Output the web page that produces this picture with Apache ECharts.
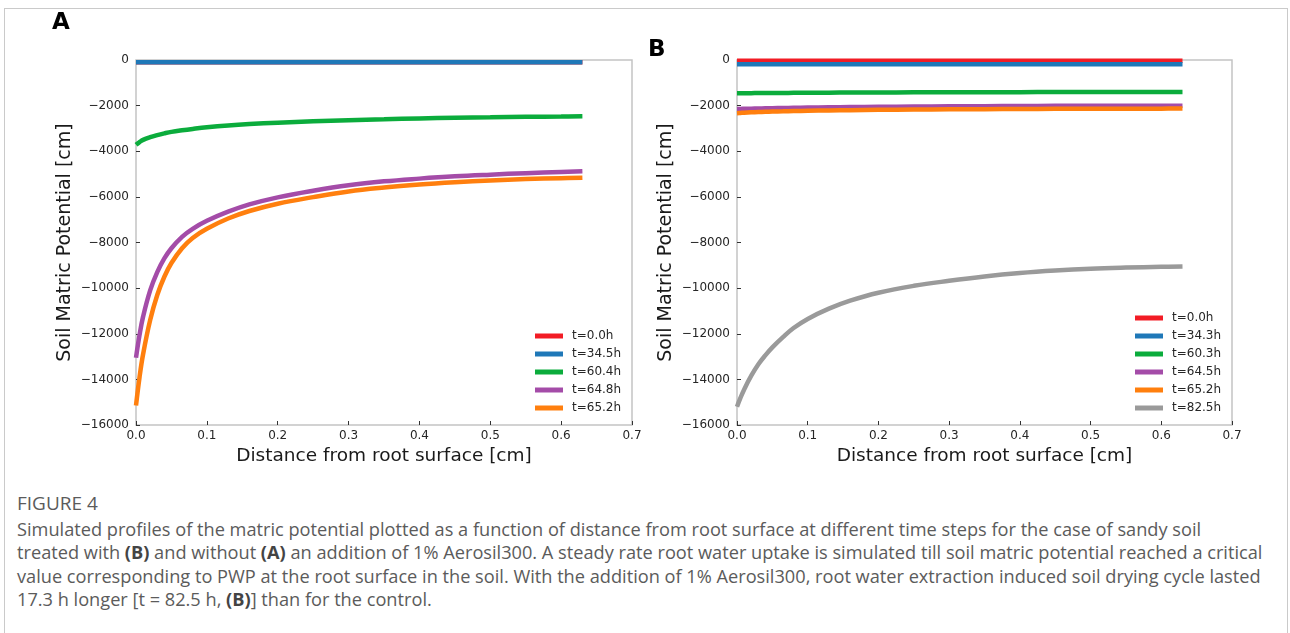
<!DOCTYPE html>
<html>
<head>
<meta charset="utf-8">
<script src="https://cdn.jsdelivr.net/npm/echarts@6/dist/echarts.min.js"></script>
<style>
  body { margin: 0; background: #fff; width: 1290px; height: 633px; overflow: hidden; position: relative; }
  #frame { position: absolute; left: 4px; top: 8px; width: 1284px; height: 700px; border: 1px solid #cacaca; box-sizing: border-box; }
  #chart { position: absolute; left: 0; top: 0; width: 1290px; height: 475px; }
  #caption { position: absolute; left: 17px; top: 490px; width: 1270px; font-family: "Open Sans", sans-serif; color: #5b5b5b; white-space: nowrap; }
  #caption .fig { font-size: 19px; line-height: 26px; height: 26px; margin-bottom: 2px; }
  #caption .txt { font-size: 18.2px; line-height: 23.4px; }
  #caption b { color: #444; }
</style>
</head>
<body>
<div id="frame"></div>
<div id="chart"></div>
<div id="caption">
  <div class="fig">FIGURE 4</div>
  <div class="txt">Simulated profiles of the matric potential plotted as a function of distance from root surface at different time steps for the case of sandy soil<br>treated with <b>(B)</b> and without <b>(A)</b> an addition of 1% Aerosil300. A steady rate root water uptake is simulated till soil matric potential reached a critical<br>value corresponding to PWP at the root surface in the soil. With the addition of 1% Aerosil300, root water extraction induced soil drying cycle lasted<br>17.3 h longer [t = 82.5 h, <b>(B)</b>] than for the control.</div>
</div>
<script>
// distance from root surface [cm]
var dist = [0, 0.005, 0.01, 0.02, 0.03, 0.04, 0.05, 0.065, 0.08, 0.1, 0.13, 0.16, 0.2, 0.25, 0.3, 0.35, 0.4, 0.45, 0.5, 0.55, 0.6, 0.63];

// panel A (without Aerosil)
var namesA = ['t=0.0h', 't=34.5h', 't=60.4h', 't=64.8h', 't=65.2h'];
var redA    = [-100, -100, -100, -100, -100, -100, -100, -100, -100, -100, -100, -100, -100, -100, -100, -100, -100, -100, -100, -100, -100, -100];
var blueA   = [-100, -100, -100, -100, -100, -100, -100, -100, -100, -100, -100, -100, -100, -100, -100, -100, -100, -100, -100, -100, -100, -100];
var greenA  = [-3720, -3600, -3500, -3380, -3290, -3215, -3150, -3080, -3020, -2950, -2870, -2810, -2750, -2690, -2640, -2600, -2560, -2530, -2510, -2490, -2480, -2470];
var purpleA = [-13050, -12050, -11250, -10100, -9300, -8700, -8250, -7750, -7400, -7050, -6650, -6330, -6020, -5730, -5490, -5320, -5200, -5100, -5025, -4960, -4910, -4880];
var orangeA = [-15150, -13900, -12900, -11400, -10300, -9500, -8900, -8250, -7800, -7400, -6950, -6620, -6300, -6010, -5760, -5590, -5460, -5360, -5280, -5220, -5180, -5160];

// panel B (with 1% Aerosil300)
var namesB = ['t=0.0h', 't=34.3h', 't=60.3h', 't=64.5h', 't=65.2h', 't=82.5h'];
var redB    = [-30, -30, -30, -30, -30, -30, -30, -30, -30, -30, -30, -30, -30, -30, -30, -30, -30, -30, -30, -30, -30, -30];
var blueB   = [-190, -190, -190, -190, -190, -190, -190, -190, -190, -190, -190, -190, -190, -190, -190, -190, -190, -190, -190, -190, -190, -190];
var greenB  = [-1460, -1458, -1456, -1453, -1450, -1448, -1446, -1443, -1440, -1437, -1432, -1428, -1424, -1419, -1415, -1412, -1409, -1406, -1404, -1402, -1401, -1400];
var purpleB = [-2150, -2145, -2140, -2132, -2125, -2118, -2112, -2105, -2096, -2085, -2072, -2062, -2050, -2040, -2030, -2022, -2016, -2010, -2006, -2003, -2001, -2000];
var orangeB = [-2330, -2320, -2310, -2295, -2282, -2271, -2262, -2250, -2238, -2225, -2210, -2198, -2185, -2172, -2162, -2154, -2148, -2142, -2138, -2135, -2132, -2130];
var grayB   = [-15200, -14800, -14450, -13850, -13350, -12950, -12600, -12150, -11750, -11350, -10900, -10550, -10200, -9900, -9680, -9490, -9340, -9230, -9150, -9100, -9065, -9050];

var colors = ['#f21c25', '#1f78b8', '#0bac3c', '#a44ca8', '#ff7f0e', '#9a9a9a'];
var tickFont = { fontFamily: 'DejaVu Sans', fontSize: 12, color: '#262626' };

function pairs(ys) {
    return dist.map(function (d, i) { return [d, ys[i]]; });
}

function xAxisFor(idx) {
    return {
        type: 'value', gridIndex: idx, min: 0, max: 0.7, interval: 0.1,
        name: 'Distance from root surface [cm]', nameLocation: 'middle', nameGap: 22,
        nameTextStyle: { fontFamily: 'DejaVu Sans', fontSize: 18.5, color: '#1a1a1a' },
        axisLine: { show: false, onZero: false },
        axisTick: { show: true, inside: true, length: 4, lineStyle: { color: '#333', width: 1 } },
        splitLine: { show: false },
        axisLabel: Object.assign({ margin: 5, formatter: function (v) { return v.toFixed(1); } }, tickFont)
    };
}

function yAxisFor(idx) {
    return {
        type: 'value', gridIndex: idx, min: -16000, max: 0, interval: 2000,
        name: 'Soil Matric Potential [cm]', nameLocation: 'middle', nameGap: 61,
        nameTextStyle: { fontFamily: 'DejaVu Sans', fontSize: 19, color: '#1a1a1a' },
        axisLine: { show: false, onZero: false },
        axisTick: { show: true, inside: true, length: 4, lineStyle: { color: '#333', width: 1 } },
        splitLine: { show: false },
        axisLabel: Object.assign({ margin: 7, formatter: function (v) { return String(v).replace('-', '\u2212'); } }, tickFont)
    };
}

function lineSeries(name, ys, color, idx) {
    return {
        name: name, type: 'line', xAxisIndex: idx, yAxisIndex: idx,
        data: pairs(ys), smooth: 0.4, showSymbol: false, clip: false,
        lineStyle: { color: color, width: 4.5 }, itemStyle: { color: color },
        emphasis: { disabled: true }
    };
}

var seriesA = [redA, blueA, greenA, purpleA, orangeA];
var seriesB = [redB, blueB, greenB, purpleB, orangeB, grayB];
var series = [];
seriesA.forEach(function (ys, i) { series.push(lineSeries(namesA[i], ys, colors[i], 0)); });
seriesB.forEach(function (ys, i) { series.push(lineSeries(namesB[i], ys, colors[i], 1)); });

function legendFor(names, left, top) {
    return {
        data: names, orient: 'vertical', left: left, top: top, padding: 0,
        icon: 'rect', itemWidth: 28, itemHeight: 5, itemGap: 4,
        selectedMode: false,
        textStyle: { fontFamily: 'DejaVu Sans', fontSize: 12, color: '#262626', lineHeight: 14, padding: [0, 0, 0, 4] }
    };
}

var chart = echarts.init(document.getElementById('chart'));
chart.setOption({
    animation: false,
    grid: [
        { left: 136, top: 60, width: 496, height: 365, show: true, borderColor: '#c4c4c4', borderWidth: 1.5, backgroundColor: 'transparent' },
        { left: 737, top: 60, width: 495, height: 365, show: true, borderColor: '#c4c4c4', borderWidth: 1.5, backgroundColor: 'transparent' }
    ],
    xAxis: [xAxisFor(0), xAxisFor(1)],
    yAxis: [yAxisFor(0), yAxisFor(1)],
    legend: [legendFor(namesA, 535, 329), legendFor(namesB, 1135, 311)],
    graphic: [
        { type: 'text', left: 52, top: 12, style: { text: 'A', font: 'bold 23px "DejaVu Sans"', fill: '#000' } },
        { type: 'text', left: 648, top: 39, style: { text: 'B', font: 'bold 23px "DejaVu Sans"', fill: '#000' } }
    ],
    series: series
});
</script>
</body>
</html>
